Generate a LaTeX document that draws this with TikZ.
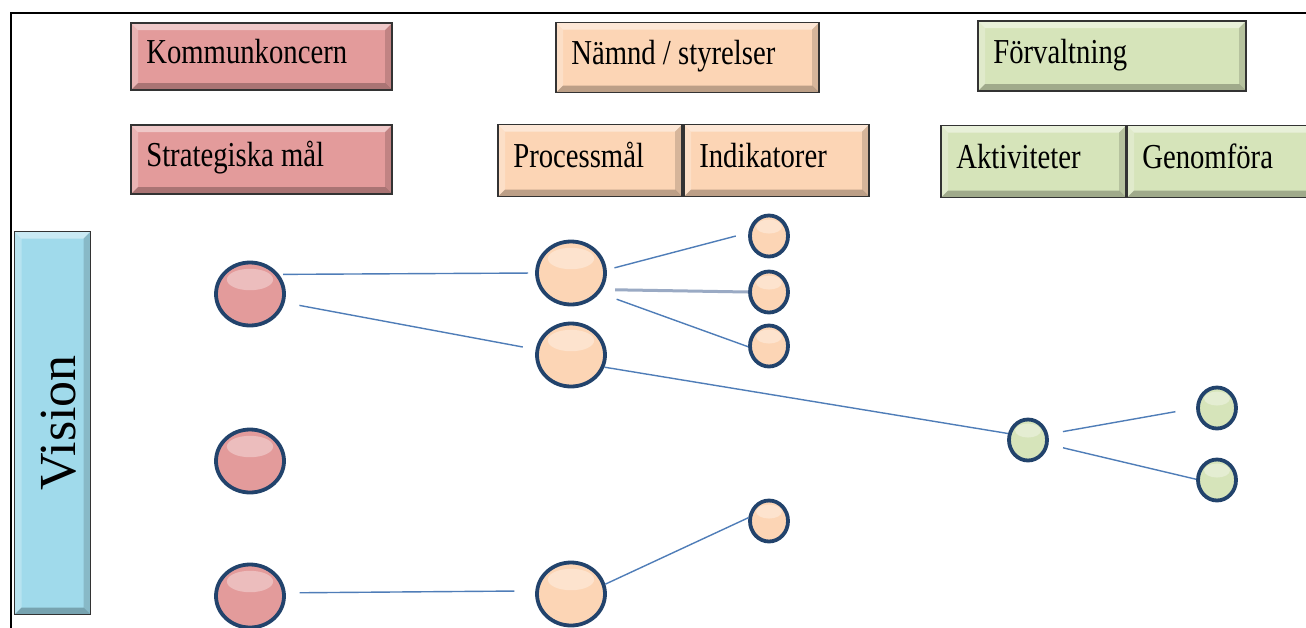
\documentclass[tikz,border=0pt]{standalone}
\usepackage{graphicx}
\usepackage{fontspec}
\setmainfont{Liberation Serif}
\usetikzlibrary{shapes.geometric}
\definecolor{pinkc}{HTML}{E39B9B}
\definecolor{peachc}{HTML}{FCD5B5}
\definecolor{greenc}{HTML}{D6E4BA}
\definecolor{bluec}{HTML}{A0DAEB}
\definecolor{ringc}{HTML}{22436C}
\definecolor{linec}{HTML}{4F7DB8}
\definecolor{greyline}{HTML}{9AAAC4}
\newcommand\sqz[1]{\scalebox{0.82}[1]{#1}}
\tikzset{
  bevelbox/.style={draw=black!80, line width=1.8pt, fill=#1, inner sep=0pt,
    path picture={
      \fill[white,opacity=0.45] (path picture bounding box.north west) -- (path picture bounding box.north east)
        -- ([xshift=-7pt,yshift=-7pt]path picture bounding box.north east) -- ([xshift=7pt,yshift=-7pt]path picture bounding box.north west) -- cycle;
      \fill[white,opacity=0.25] (path picture bounding box.north west) -- ([xshift=7pt,yshift=-7pt]path picture bounding box.north west)
        -- ([xshift=7pt,yshift=7pt]path picture bounding box.south west) -- (path picture bounding box.south west) -- cycle;
      \fill[black,opacity=0.25] (path picture bounding box.south west) -- (path picture bounding box.south east)
        -- ([xshift=-7pt,yshift=7pt]path picture bounding box.south east) -- ([xshift=7pt,yshift=7pt]path picture bounding box.south west) -- cycle;
      \fill[black,opacity=0.15] (path picture bounding box.north east) -- ([xshift=-7pt,yshift=-7pt]path picture bounding box.north east)
        -- ([xshift=-7pt,yshift=7pt]path picture bounding box.south east) -- (path picture bounding box.south east) -- cycle;
    }},
  lbl/.style={inner sep=0pt, anchor=base west, font=\fontsize{35}{40}\selectfont},
  ball/.style={ellipse, draw=ringc, line width=3.8pt, fill=#1, inner sep=0pt,
    path picture={
      \fill[white,opacity=0.35] ([yshift=-0.27*\pgfkeysvalueof{/pgf/minimum height}]path picture bounding box.north) ellipse [x radius=0.34*\pgfkeysvalueof{/pgf/minimum width}, y radius=0.17*\pgfkeysvalueof{/pgf/minimum height}];
    }},
  bigball/.style={ball=#1, minimum width=68pt, minimum height=63pt},
  smallball/.style={ball=#1, minimum width=38pt, minimum height=41pt},
  conn/.style={draw=linec, line width=1.4pt},
}
\begin{document}
\begin{tikzpicture}[x=1pt,y=-1pt]
\useasboundingbox (0,0) rectangle (1306,627);
\fill[white] (0,0) rectangle (1306,627);
% frame
\draw[line width=2.5pt] (11,640) -- (11,13) -- (1320,13);

% header boxes
\node[bevelbox=pinkc, minimum width=261pt, minimum height=67pt] (k) at (261.5,56.5) {};
\node[bevelbox=pinkc, minimum width=261pt, minimum height=69pt] (s) at (261.5,159.5) {};
\node[bevelbox=peachc, minimum width=263pt, minimum height=70pt] (n) at (687.5,57.5) {};
\node[bevelbox=peachc, minimum width=184pt, minimum height=72pt] (p) at (590,160.5) {};
\node[bevelbox=peachc, minimum width=185pt, minimum height=72pt] (i) at (776.5,160.5) {};
\node[bevelbox=greenc, minimum width=268pt, minimum height=70pt] (f) at (1112,56) {};
\node[bevelbox=greenc, minimum width=185pt, minimum height=72pt] (a) at (1033.5,161.5) {};
\node[bevelbox=greenc, minimum width=190pt, minimum height=72pt] (g) at (1222,161.5) {};
\node[bevelbox=bluec, minimum width=76pt, minimum height=383pt] (v) at (52.5,423) {};

\node[lbl] (kT) at ([xshift=16pt,yshift=-7pt]k.west) {\sqz{Kommunkoncern}};
\node[lbl] (sT) at ([xshift=16pt,yshift=-7pt]s.west) {\sqz{Strategiska mål}};
\node[lbl] (nT) at ([xshift=16pt,yshift=-7pt]n.west) {\sqz{Nämnd / styrelser}};
\node[lbl] (pT) at ([xshift=16pt,yshift=-7pt]p.west) {\sqz{Processmål}};
\node[lbl] (iT) at ([xshift=16pt,yshift=-7pt]i.west) {\sqz{Indikatorer}};
\node[lbl] (fT) at ([xshift=16pt,yshift=-7pt]f.west) {\sqz{Förvaltning}};
\node[lbl] (aT) at ([xshift=16pt,yshift=-7pt]a.west) {\sqz{Aktiviteter}};
\node[lbl] (gT) at ([xshift=16pt,yshift=-7pt]g.west) {\sqz{Genomföra}};
\node[inner sep=0pt, rotate=90, font=\fontsize{52}{58}\selectfont] (vT) at ([xshift=6pt]v.center) {Vision};

% balls
\node[bigball=pinkc] (r1) at (250,294) {};
\node[bigball=pinkc] (r2) at (250,461) {};
\node[bigball=pinkc] (r3) at (250,596) {};
\node[bigball=peachc] (q1) at (571,273) {};
\node[bigball=peachc] (q2) at (571,355) {};
\node[bigball=peachc] (q3) at (571,594) {};
\node[smallball=peachc] (t1) at (769,236) {};
\node[smallball=peachc] (t2) at (769,292) {};
\node[smallball=peachc] (t3) at (769,346) {};
\node[smallball=peachc] (t4) at (769,521) {};
\node[smallball=greenc] (e1) at (1028,440) {};
\node[smallball=greenc] (e2) at (1217,408) {};
\node[smallball=greenc] (e3) at (1217,480) {};

% connectors
\draw[conn, shorten <=4pt, shorten >=7pt] (r1.34) -- (q1.180);
\draw[conn, shorten <=15pt, shorten >=13pt] (r1.-14) -- (q2.171);
\draw[conn, shorten <=8pt, shorten >=13pt] (q1.5) -- (t1.171);
\draw[draw=greyline, line width=3pt, shorten <=13pt] (q1.-28) -- (t2.180);
\draw[conn, shorten <=18pt] (q1.-35) -- (t3.182);
\draw[conn] (q2.-20) -- (e1.162);
\draw[conn, shorten <=15pt, shorten >=21pt] (e1.16) -- (e2.180);
\draw[conn, shorten <=15pt] (e1.-12) -- (e3.178);
\draw[conn, shorten <=14pt, shorten >=21pt] (r3.5) -- (q3.175);
\draw[conn] (q3.16) -- (t4.171);
\end{tikzpicture}
\end{document}
